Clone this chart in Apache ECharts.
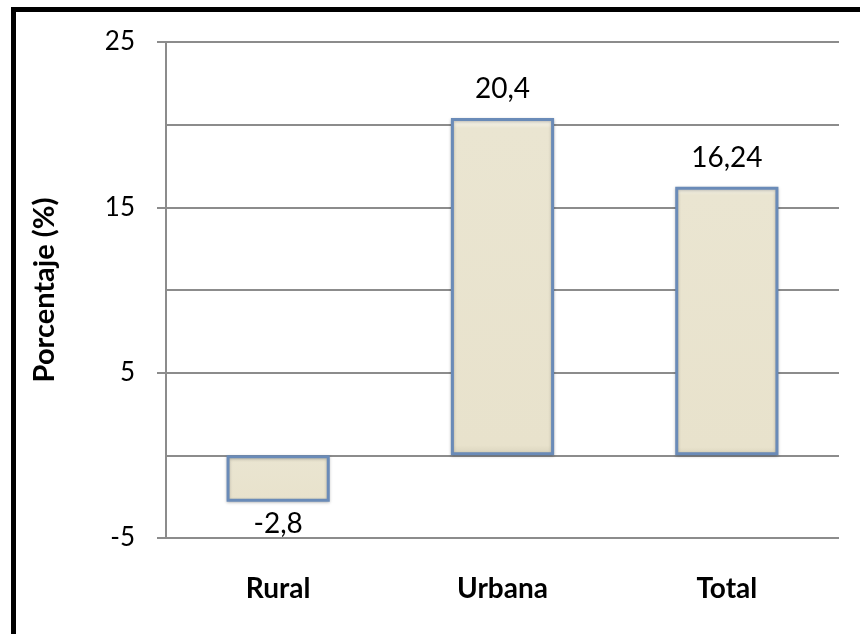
<!DOCTYPE html>
<html><head><meta charset="utf-8">
<script src="https://cdn.jsdelivr.net/npm/echarts@6/dist/echarts.min.js"></script>
<style>html,body{margin:0;padding:0;background:#fff}#c{width:860px;height:634px}</style>
</head><body><div id="c"></div>
<script>
const categories = ['Rural', 'Urbana', 'Total'];
const values = [-2.8, 20.4, 16.24];
const yMin = -5, yMax = 25, yStep = 10;
const yAxisName = 'Porcentaje (%)';

const chart = echarts.init(document.getElementById('c'));
const font = 'Lato, "Open Sans", sans-serif';
const fmt = v => String(v).replace('.', ',');
chart.setOption({
  animation: false,
  graphic: [
    {type: 'rect', shape: {x: 11, y: 7, width: 5, height: 627}, style: {fill: '#000'}},
    {type: 'rect', shape: {x: 11, y: 7, width: 849, height: 5}, style: {fill: '#000'}}
  ],
  grid: {left: 166, top: 42, right: 21, bottom: 96},
  xAxis: {
    type: 'category', data: categories,
    axisLine: {show: false}, axisTick: {show: false},
    axisLabel: {fontFamily: font, fontSize: 28, fontWeight: 'bold', color: '#000', margin: 37}
  },
  yAxis: {
    type: 'value', min: yMin, max: yMax, interval: yStep,
    name: yAxisName, nameLocation: 'middle', nameGap: 107, nameRotate: 90,
    nameTextStyle: {fontFamily: font, fontSize: 29, fontWeight: 'bold', color: '#000'},
    axisLine: {show: true, lineStyle: {color: '#8c8c8c', width: 2}},
    axisTick: {show: true, length: 9, lineStyle: {color: '#8c8c8c', width: 2}},
    minorTick: {show: false, splitNumber: 2},
    minorSplitLine: {show: true, lineStyle: {color: '#8c8c8c', width: 2}},
    splitLine: {show: true, lineStyle: {color: '#8c8c8c', width: 2}},
    axisLabel: {fontFamily: font, fontSize: 26, color: '#000', margin: 31}
  },
  series: [{
    type: 'bar', barWidth: '46%',
    data: values.map(v => ({
      value: v,
      label: {position: v < 0 ? 'bottom' : 'top', distance: v < 0 ? 8 : 15}
    })),
    itemStyle: {
      color: new echarts.graphic.LinearGradient(0, 0, 0, 1, [
        {offset: 0, color: '#fdfcf6'},
        {offset: 0.03, color: '#eae5d1'},
        {offset: 0.97, color: '#e8e2cc'},
        {offset: 1, color: '#d8d2bb'}
      ]),
      borderColor: '#6a8bb8', borderWidth: 3,
      shadowColor: 'rgba(0,0,0,0.25)', shadowBlur: 3, shadowOffsetY: 1
    },
    label: {
      show: true, fontFamily: font, fontSize: 28, color: '#000',
      formatter: p => fmt(p.value)
    }
  }]
});
</script></body></html>
